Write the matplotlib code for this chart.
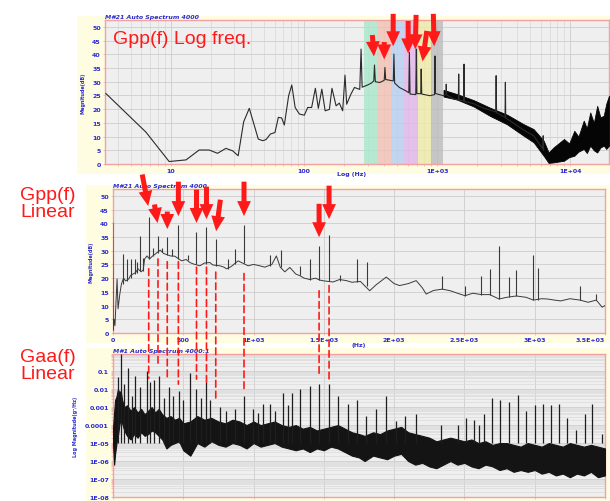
import numpy as np
import matplotlib
matplotlib.use('Agg')
import matplotlib.pyplot as plt
from matplotlib.patches import Rectangle, ConnectionPatch
from matplotlib.ticker import FixedLocator, LogLocator, NullFormatter

# ---- Gpp(f), log frequency axis ----
top_f = [3.25, 6.5, 9.7, 13.0, 16.3, 19.4, 22.4, 25.9, 29.1, 32.0,
         35.2, 38.8, 45.3, 48.9, 51.8, 55.8, 60.5, 64.1, 67.9, 71.1,
         76.6, 80.9, 85.7, 92.3, 100.5, 106.5, 114, 121.6, 128, 136,
         144, 155, 162, 174, 184, 195, 203, 209, 225, 239,
         262, 268, 273, 300, 320, 334, 338, 343, 370, 400,
         405, 410, 468, 473, 479, 520, 580, 612, 618, 625,
         690, 697, 703, 752, 758, 765, 880, 955, 962, 970,
         1115, 1163, 1169, 1176, 1330, 1440, 1450, 1460, 1580, 1590,
         1600, 1875, 2200, 2750, 2770, 2790, 3230, 3250, 3270, 4460,
         5300, 6200, 6250, 6300]
top_db = [25.7, 11.6, 0.9, 1.5, 5.1, 5.1, 3.9, 5.7, 4.8, 3.0,
          15.4, 20.3, 9.1, 8.5, 8.9, 10.9, 11.5, 17.0, 16.8, 14.2,
          24.9, 28.8, 20.6, 18.2, 17.8, 20.6, 20.6, 27.6, 20.3, 27.3,
          19.4, 19.9, 27.6, 21.2, 22.2, 19.4, 32.4, 21.8, 25.5, 27.9,
          27.2, 41.9, 28.0, 28.8, 29.5, 30.3, 36.1, 30.0, 29.7, 30.5,
          35.2, 30.8, 30.3, 40.1, 29.5, 27.9, 26.7, 26.0, 40.7, 25.5,
          25.3, 41.9, 25.7, 25.6, 34.6, 25.5, 24.9, 25.3, 39.4, 25.7,
          24.9, 25.4, 29.1, 25.2, 23.7, 23.4, 32.8, 23.3, 23.0, 36.4,
          22.8, 22.0, 20.5, 19.0, 32.2, 18.7, 17.0, 29.8, 16.8, 12.4,
          10.3, 5.5, 10.3, 5.0]

# noisy high-frequency part (lower / upper envelope)
env_f = [1115, 1405, 1875, 2500, 3340, 4460, 5300, 6300, 6860, 7500,
         8950, 9800, 10700, 11500, 12600, 13300, 14100, 15000, 15900, 16800,
         17800, 18600, 19500]
env_lo = [24.6, 23.5, 21.0, 17.5, 14.5, 10.3, 7.9, 3.0, 0.4, 0.6,
          1.2, 2.5, 3.0, 4.5, 5.5, 4.0, 6.7, 5.0, 4.2, 6.0,
          6.7, 5.5, 6.7]
env_hi = [27.0, 25.5, 23.3, 20.5, 18.0, 14.5, 12.7, 8.5, 4.2, 6.1,
          9.1, 7.5, 12.1, 10.0, 15.8, 13.0, 18.8, 15.0, 21.2, 17.0,
          17.6, 22.0, 24.9]

band_edges = [282, 355, 450, 565, 720, 900, 1110]
band_colors = ['#a9e8cb', '#f2c0b4', '#b6cff2', '#e2b6ea', '#eeeaa6', '#bcbcbc']

top_arrow_f = [336, 400, 467, 605, 683, 771, 950]
top_arrow_db = [38.2, 37.1, 41.9, 39.3, 40.8, 36.4, 41.9]
top_arrow_dx = [-2, 0, 0, 0, 1, 5, -1]
top_arrow_dy = [27, 23, 38, 38, 40, 36, 38]

# ---- Gpp(f), linear frequency axis ----
mid_f = [0, 2, 8, 14, 22, 29, 36, 48, 60, 75,
         90, 112, 125, 142, 160, 178, 200, 215, 225, 242,
         260, 280, 301, 336, 360, 408, 440, 488, 520, 547,
         570, 618, 650, 689, 710, 760, 790, 807, 840, 890,
         961, 1000, 1044, 1080, 1130, 1162, 1190, 1222, 1258, 1300,
         1329, 1360, 1400, 1440, 1470, 1500, 1565, 1612, 1660, 1700,
         1760, 1826, 1870, 1944, 2000, 2039, 2100, 2157, 2200, 2228,
         2280, 2342, 2400, 2450, 2504, 2560, 2620, 2680, 2746, 2800,
         2869, 2940, 2990, 3050, 3090, 3140, 3185, 3250, 3322, 3380,
         3438, 3480, 3500]
mid_db = [40, 1, 5, 2.7, 12, 19.7, 8.8, 14, 17.9, 20,
          19, 19.7, 21, 21.5, 22, 23.4, 22.3, 23, 27, 28.1,
          27, 28, 28.8, 30.2, 29, 28.1, 28, 26.3, 26.8, 25.7,
          25.2, 24.5, 25.5, 25.7, 24.8, 24.5, 24, 23.4, 24.2, 26.3,
          24.5, 25, 24.5, 24, 25, 28.1, 24, 22.3, 23.9, 21.5,
          20.9, 20, 19.5, 20, 19.3, 19, 18.6, 19.5, 19.1, 18.5,
          18.8, 15.4, 17.5, 20.4, 18, 17.3, 18, 19.1, 16.5, 14.2,
          15.5, 16, 15.4, 14.5, 13.6, 14.5, 14, 14, 12.4, 13,
          13.5, 13, 12, 12.5, 12.4, 12, 11.7, 12.5, 12, 11.2,
          12, 9.4, 10]

spk_f = [69, 100, 128, 159, 172, 190, 210, 254, 288, 320,
         352, 386, 420, 465, 530, 594, 665, 731, 820, 866,
         932, 1115, 1198, 1328, 1399, 1466, 1537, 1612, 1738, 1809,
         2342, 2504, 2620, 2680, 2746, 2817, 2869, 2990, 3023, 3322,
         3438]
spk_base = [18, 19, 20, 21.5, 22, 22.5, 22.5, 27, 28, 29,
            29.5, 28.5, 28, 27, 26.5, 25, 25, 24.5, 23.5, 25,
            25.5, 24.5, 24, 21, 19.5, 19.5, 19, 19, 18.5, 17,
            16, 13.6, 14, 14, 12.5, 13, 13.5, 12, 12, 12,
            12]
spk_peak = [28.8, 27, 27, 27, 26, 35.5, 27.5, 42.2, 31, 35.5,
            31, 34.9, 30.5, 39.2, 28.5, 36.7, 38.6, 34.3, 27, 30.7,
            39.2, 28.5, 30.2, 24.6, 26.9, 31.6, 35.8, 21, 26.9, 25.8,
            20.9, 17.3, 20.9, 23.4, 31.6, 20.4, 22.9, 28.5, 23.6, 17.3,
            14.2]

mid_arrow_f = [254, 320, 386, 465, 594, 665, 731, 932, 1466, 1537]
mid_arrow_db = [45.3, 39.1, 36.9, 41.6, 39.1, 40.5, 36.1, 41.6, 33.9, 40.5]
mid_arrow_dx = [-7, -4, 0, 0, 0, 0, 5, 0, 0, 0]
mid_arrow_dy = [37, 24, 23, 40, 39, 38, 37, 40, 39, 39]

# dashed guide lines: start in Gpp (dB), end in Gaa (g^2/Hz)
guide_f = [254, 320, 386, 465, 594, 665, 731, 932, 1466, 1537]
guide_db = [23.4, 27, 26, 26, 24, 24, 22.2, 21.7, 15.4, 17.3]
guide_gaa = [0.041, 0.166, 0.029, 0.019, 0.036, 0.023, 0.002, 0.008, 0.045, 0.036]

# ---- Gaa(f), linear frequency axis, log10 of g^2/Hz ----
gaa_f = [0, 8, 15, 25, 35, 45, 55, 65, 80, 100,
         125, 150, 175, 200, 225, 250, 275, 300, 325, 350,
         380, 410, 440, 470, 500, 550, 600, 650, 700, 750,
         800, 850, 900, 950, 1000, 1050, 1100, 1150, 1200, 1250,
         1300, 1350, 1400, 1450, 1500, 1550, 1600, 1650, 1700, 1750,
         1790, 1850, 1900, 1950, 2000, 2050, 2100, 2150, 2200, 2250,
         2300, 2350, 2400, 2450, 2500, 2550, 2600, 2650, 2700, 2750,
         2800, 2850, 2900, 2950, 3000, 3050, 3100, 3150, 3200, 3250,
         3300, 3350, 3400, 3450, 3500]
gaa_lo = [-5.0, -6.2, -5.6, -5.0, -4.6, -4.0, -3.6, -3.9, -4.3, -4.6,
          -4.8, -4.5, -4.7, -4.4, -4.6, -4.5, -4.3, -4.4, -4.6, -4.8,
          -5.3, -5.1, -5.0, -4.9, -5.4, -5.7, -5.0, -5.2, -4.9, -5.1,
          -5.2, -5.0, -5.1, -5.3, -5.0, -5.2, -5.1, -5.0, -5.2, -5.3,
          -5.4, -5.3, -5.5, -5.3, -5.4, -5.2, -5.3, -5.5, -5.7, -5.8,
          -6.0, -5.7, -5.8, -5.9, -5.7, -5.6, -6.0, -6.2, -6.1, -6.3,
          -6.4, -6.2, -6.0, -6.2, -6.1, -6.3, -6.4, -6.2, -6.3, -6.5,
          -6.4, -6.6, -6.5, -6.6, -6.5, -6.7, -6.6, -6.8, -6.7, -6.9,
          -6.7, -6.8, -6.6, -6.9, -6.8]
gaa_hi = [-4.2, -3.3, -2.6, -2.4, -2.0, -2.2, -2.1, -2.6, -3.0, -2.9,
          -3.2, -3.0, -3.3, -3.1, -3.4, -3.2, -3.0, -3.3, -3.1, -3.4,
          -3.6, -3.5, -3.7, -3.6, -3.9, -3.8, -3.5, -3.7, -3.6, -3.8,
          -3.9, -3.7, -3.8, -4.0, -3.8, -4.0, -3.9, -3.8, -4.0, -4.1,
          -4.0, -4.2, -4.1, -4.3, -4.2, -4.1, -4.0, -4.2, -4.4, -4.5,
          -4.6, -4.4, -4.5, -4.3, -4.2, -4.1, -4.4, -4.5, -4.6, -4.7,
          -4.9, -4.8, -4.7, -4.8, -4.9, -4.8, -5.0, -4.9, -5.1, -5.0,
          -5.0, -5.1, -5.2, -5.0, -5.1, -5.2, -5.0, -5.1, -5.2, -5.0,
          -5.1, -5.2, -5.1, -5.2, -5.3]

gaa_spk_f = [38, 55, 78, 109, 133, 157, 192, 239, 263, 294,
             329, 365, 395, 428, 469, 500, 551, 594, 625, 665,
             689, 760, 807, 866, 932, 995, 1030, 1068, 1115, 1150,
             1210, 1245, 1275, 1328, 1399, 1465, 1536, 1600, 1671, 1735,
             1801, 1872, 1939, 2014, 2074, 2156, 2334, 2452, 2512, 2571,
             2606, 2637, 2696, 2755, 2814, 2878, 2938, 2999, 3056, 3115,
             3174, 3233, 3293, 3356, 3411, 3477]
gaa_spk_log = [-1.35, -0.05, -1.7, -0.8, -2.4, -1.26, -1.9, -1.0, -1.6, -1.5,
               -1.26, -2.5, -1.9, -2.4, -2.1, -2.6, -1.1, -2.0, -2.5, -1.6,
               -2.6, -3.0, -3.2, -3.1, -2.4, -3.1, -3.3, -2.8, -2.8, -3.2,
               -2.2, -2.9, -2.2, -2.0, -1.8, -1.7, -1.7, -2.4, -2.8, -2.6,
               -3.5, -3.1, -2.4, -3.8, -3.5, -3.4, -4.0, -4.0, -3.6, -3.7,
               -4.0, -3.4, -2.5, -2.6, -2.7, -2.3, -3.2, -2.9, -2.8, -2.9,
               -2.8, -3.6, -4.3, -3.4, -2.8, -4.5]

lin_ticks = [0, 500, 1000, 1500, 2000, 2500, 3000, 3500]
lin_labels = ['0', '500', '1E+03', '1.5E+03', '2E+03', '2.5E+03', '3E+03', '3.5E+03']
db_ticks = list(range(0, 55, 5))
log_ticks = [10, 100, 1000, 10000]
log_labels = ['10', '100', '1E+03', '1E+04']
gaa_ticks = [1e-8, 1e-7, 1e-6, 1e-5, 1e-4, 1e-3, 1e-2, 1e-1]
gaa_labels = ['1E-08', '1E-07', '1E-06', '1E-05', '0.0001', '0.001', '0.01', '0.1']

W, H = 610, 502
BLUE = '#2a2ad0'
RED = '#ff1a1a'
FRAME = '#fefde2'
SPINE = '#f2a0a0'


def box(l, t, r, b):
    return [l / W, 1 - b / H, (r - l) / W, (b - t) / H]


def style(ax, title, ylabel):
    ax.set_facecolor('#efefef')
    for s in ax.spines.values():
        s.set_color(SPINE)
        s.set_linewidth(1.0)
    ax.tick_params(axis='both', which='both', labelsize=4.5, labelcolor=BLUE,
                   color=SPINE, length=1.5, width=0.5, pad=1.5)
    for lab in ax.get_xticklabels() + ax.get_yticklabels():
        lab.set_fontweight('bold')
    ax.grid(True, which='major', color='#cdcdcd', lw=0.6)
    ax.set_axisbelow(True)
    ax.text(0.0, 1.005, title, transform=ax.transAxes, fontsize=4.5,
            color=BLUE, fontweight='bold', style='italic', va='bottom')
    ax.set_ylabel(ylabel, fontsize=3.5, color=BLUE, fontweight='bold', labelpad=5)


fig = plt.figure(figsize=(6.1, 5.02), dpi=100)

for l, t, r, b in [(77, 17, 610, 175), (86, 186, 610, 344), (86, 349, 610, 502)]:
    fig.patches.append(Rectangle((l / W, 1 - b / H), (r - l) / W, (b - t) / H,
                                 transform=fig.transFigure, color=FRAME, lw=0, zorder=-5))

ax1 = fig.add_axes(box(105, 21, 609, 165))
ax2 = fig.add_axes(box(113, 190, 605, 334))
ax3 = fig.add_axes(box(113, 355, 605, 498))

# top: log frequency
ax1.set_xscale('log')
for i, c in enumerate(band_colors):
    ax1.axvspan(band_edges[i], band_edges[i + 1], color=c, alpha=0.8, lw=0, zorder=1)
ax1.fill_between(env_f, env_lo, env_hi, color='#050505', lw=0.6, zorder=3)
ax1.plot(top_f, top_db, color='#2b2b2b', lw=0.8, zorder=4)
ax1.set_xlim(3.2, 19500)
ax1.set_ylim(0, 52.5)
ax1.xaxis.set_major_locator(FixedLocator(log_ticks))
ax1.set_xticklabels(log_labels)
ax1.xaxis.set_minor_locator(LogLocator(base=10, subs=np.arange(2, 10)))
ax1.xaxis.set_minor_formatter(NullFormatter())
ax1.set_yticks(db_ticks)
style(ax1, 'M#21 Auto Spectrum 4000', 'Magnitude(dB)')
ax1.grid(True, which='minor', axis='x', color='#d8d8d8', lw=0.5)
ax1.set_xlabel('Log (Hz)', fontsize=4.5, color=BLUE, fontweight='bold')
ax1.xaxis.set_label_coords(0.49, -0.05)
ax1.text(0.016, 0.87, 'Gpp(f) Log freq.', transform=ax1.transAxes, fontsize=14,
         color=RED, family='Liberation Sans', va='center', zorder=6)

# middle: Gpp linear
ax2.plot(mid_f, mid_db, color='#3a3a3a', lw=0.7, zorder=3)
ax2.vlines(spk_f, spk_base, spk_peak, color='#3a3a3a', lw=0.8, zorder=3)
ax2.set_xlim(0, 3500)
ax2.set_ylim(0, 52.5)
ax2.set_xticks(lin_ticks)
ax2.set_xticklabels(lin_labels)
ax2.get_xticklabels()[-1].set_horizontalalignment('right')
ax2.set_yticks(db_ticks)
style(ax2, 'M#21 Auto Spectrum 4000', 'Magnitude(dB)')
ax2.set_xlabel('(Hz)', fontsize=4.5, color=BLUE, fontweight='bold')
ax2.xaxis.set_label_coords(0.5, -0.06)

# bottom: Gaa linear, log magnitude
ax3.set_yscale('log')
ax3.fill_between(gaa_f, 10 ** np.array(gaa_lo), 10 ** np.array(gaa_hi),
                 color='#141414', lw=0.8, zorder=3)
ax3.vlines(gaa_spk_f, 1e-5, 10 ** np.array(gaa_spk_log), color='#1e1e1e', lw=0.9, zorder=3)
ax3.set_xlim(0, 3500)
ax3.set_ylim(1e-8, 0.9)
ax3.set_xticks(lin_ticks)
ax3.set_xticklabels(lin_labels)
ax3.get_xticklabels()[-1].set_horizontalalignment('right')
ax3.set_yticks(gaa_ticks)
ax3.set_yticklabels(gaa_labels)
ax3.yaxis.set_minor_locator(LogLocator(base=10, subs=np.arange(2, 10)))
ax3.yaxis.set_minor_formatter(NullFormatter())
style(ax3, 'M#1 Auto Spectrum 4000:1', 'Log Magnitude(g\u00b2/Hz)')
ax3.grid(True, which='minor', axis='y', color='#dadada', lw=0.5)

# red arrows pointing at the peaks
arrow = dict(arrowstyle='simple,head_length=1.2,head_width=1.1,tail_width=0.4',
             mutation_scale=9, color=RED, lw=0)
for f, v, dx, dy in zip(top_arrow_f, top_arrow_db, top_arrow_dx, top_arrow_dy):
    ax1.annotate('', xy=(f, v), xytext=(dx, dy), textcoords='offset pixels',
                 arrowprops=arrow, annotation_clip=False, zorder=7)
for f, v, dx, dy in zip(mid_arrow_f, mid_arrow_db, mid_arrow_dx, mid_arrow_dy):
    ax2.annotate('', xy=(f, v), xytext=(dx, dy), textcoords='offset pixels',
                 arrowprops=arrow, annotation_clip=False, zorder=7)

# dashed guides from Gpp down to Gaa
for f, v0, v1 in zip(guide_f, guide_db, guide_gaa):
    con = ConnectionPatch(xyA=(f, v0), coordsA=ax2.transData,
                          xyB=(f, v1), coordsB=ax3.transData,
                          color=RED, lw=1.2, linestyle=(0, (4, 2.5)), zorder=8)
    fig.add_artist(con)

fig.text(48 / W, 1 - 204 / H, 'Gpp(f)\nLinear', fontsize=14, color=RED,
         family='Liberation Sans', ha='center', va='center', linespacing=1.05)
fig.text(48 / W, 1 - 366 / H, 'Gaa(f)\nLinear', fontsize=14, color=RED,
         family='Liberation Sans', ha='center', va='center', linespacing=1.05)

fig.savefig('out.png', dpi=100)
